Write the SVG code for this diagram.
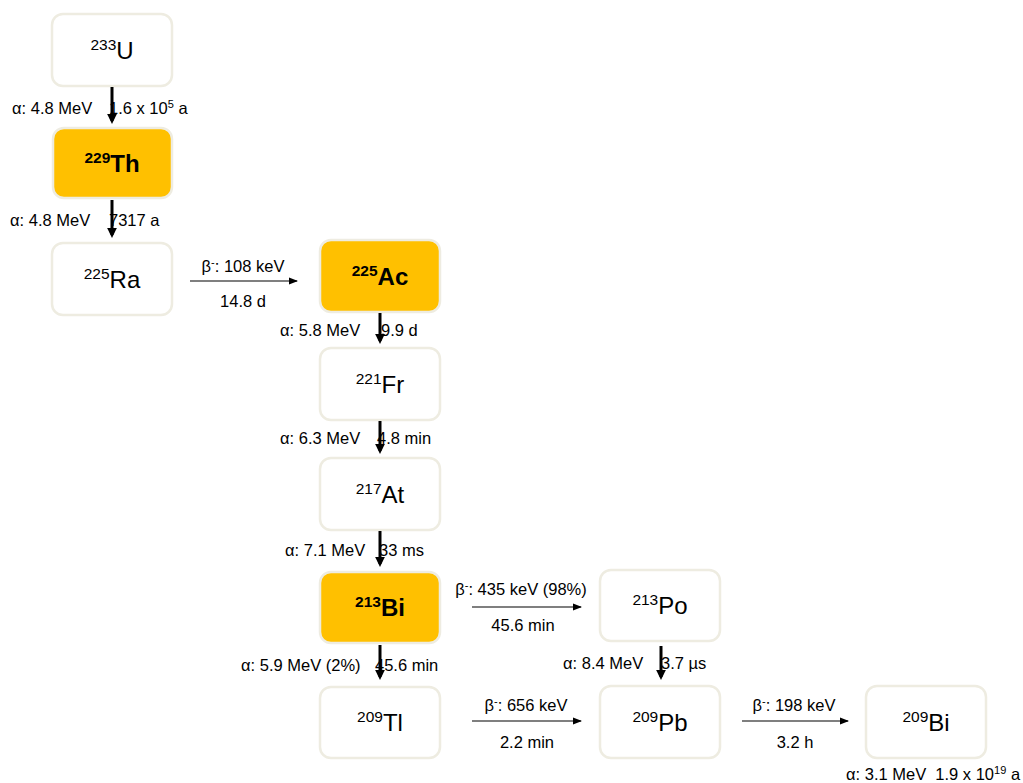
<svg xmlns="http://www.w3.org/2000/svg" width="1023" height="783" viewBox="0 0 1023 783">
<defs>
<style>
.box{fill:#ffffff;stroke:#eeece1;stroke-width:2.5}
.hl{fill:#ffc000;stroke:#eeece1;stroke-width:2.5}
.nl{font-family:"Liberation Sans",Arial,sans-serif;font-size:24px;fill:#000;text-anchor:middle}
.nl tspan.s{font-size:15.5px}
.nb{font-weight:bold}
.lb{font-family:"Liberation Sans",Arial,sans-serif;font-size:16.5px;fill:#000}
.c{text-anchor:middle}
.va{stroke:#000;stroke-width:3;fill:none}
.ha{stroke:#000;stroke-width:1.2;fill:none}
</style>
<marker id="big" markerWidth="3.5" markerHeight="4" refX="2.5" refY="2" orient="auto" markerUnits="strokeWidth"><path d="M0,0.3 L3.5,2 L0,3.7 z" fill="#000"/></marker>
<marker id="sm" markerWidth="8" markerHeight="6" refX="7" refY="3" orient="auto" markerUnits="strokeWidth"><path d="M0,0 L8,3 L0,6 z" fill="#000"/></marker>
</defs>
<rect width="1023" height="783" fill="#fff"/>
<g id="U233"><rect class="box" x="52" y="14" width="120" height="72" rx="11"/><text class="nl" x="112" y="59"><tspan class="s" dy="-9">233</tspan><tspan dy="9">U</tspan></text></g>
<g id="Th229"><rect class="hl" x="53" y="128" width="119" height="70" rx="11"/><text class="nl nb" x="112" y="172"><tspan class="s" dy="-9">229</tspan><tspan dy="9">Th</tspan></text></g>
<g id="Ra225"><rect class="box" x="52" y="243" width="120" height="72" rx="11"/><text class="nl" x="112" y="288"><tspan class="s" dy="-9">225</tspan><tspan dy="9">Ra</tspan></text></g>
<g id="Ac225"><rect class="hl" x="320" y="240" width="120" height="72" rx="11"/><text class="nl nb" x="380" y="285"><tspan class="s" dy="-9">225</tspan><tspan dy="9">Ac</tspan></text></g>
<g id="Fr221"><rect class="box" x="320" y="348" width="120" height="72" rx="11"/><text class="nl" x="380" y="393"><tspan class="s" dy="-9">221</tspan><tspan dy="9">Fr</tspan></text></g>
<g id="At217"><rect class="box" x="320" y="458" width="120" height="72" rx="11"/><text class="nl" x="380" y="503"><tspan class="s" dy="-9">217</tspan><tspan dy="9">At</tspan></text></g>
<g id="Bi213"><rect class="hl" x="320" y="572" width="120" height="71" rx="11"/><text class="nl nb" x="380" y="616"><tspan class="s" dy="-9">213</tspan><tspan dy="9">Bi</tspan></text></g>
<g id="Po213"><rect class="box" x="600" y="570" width="120" height="71" rx="11"/><text class="nl" x="660" y="614"><tspan class="s" dy="-9">213</tspan><tspan dy="9">Po</tspan></text></g>
<g id="Tl209"><rect class="box" x="320" y="687" width="120" height="71" rx="11"/><text class="nl" x="380" y="731"><tspan class="s" dy="-9">209</tspan><tspan dy="9">Tl</tspan></text></g>
<g id="Pb209"><rect class="box" x="600" y="686" width="120" height="72" rx="11"/><text class="nl" x="660" y="731"><tspan class="s" dy="-9">209</tspan><tspan dy="9">Pb</tspan></text></g>
<g id="Bi209"><rect class="box" x="866" y="686" width="120" height="72" rx="11"/><text class="nl" x="926" y="731"><tspan class="s" dy="-9">209</tspan><tspan dy="9">Bi</tspan></text></g>
<g id="connectors">
<line class="va" x1="112" y1="87" x2="112" y2="121" marker-end="url(#big)"/>
<line class="va" x1="112" y1="200" x2="112" y2="235" marker-end="url(#big)"/>
<line class="va" x1="380" y1="313" x2="380" y2="341" marker-end="url(#big)"/>
<line class="va" x1="380" y1="421" x2="380" y2="451" marker-end="url(#big)"/>
<line class="va" x1="380" y1="531" x2="380" y2="564" marker-end="url(#big)"/>
<line class="va" x1="380" y1="645" x2="380" y2="677" marker-end="url(#big)"/>
<line class="va" x1="661" y1="646" x2="661" y2="677" marker-end="url(#big)"/>
<line class="ha" x1="190" y1="281" x2="297" y2="281" marker-end="url(#sm)"/>
<line class="ha" x1="472" y1="607" x2="581" y2="607" marker-end="url(#sm)"/>
<line class="ha" x1="472" y1="721" x2="581" y2="721" marker-end="url(#sm)"/>
<line class="ha" x1="742" y1="721" x2="848" y2="721" marker-end="url(#sm)"/>
</g>
<g id="labels">
<text class="lb" x="12" y="114">α: 4.8 MeV</text><text class="lb" x="109" y="114">1.6 x 10<tspan dy="-6" font-size="11">5</tspan><tspan dy="6"> a</tspan></text>
<text class="lb" x="10" y="226">α: 4.8 MeV</text><text class="lb" x="109" y="226">7317 a</text>
<text class="lb c" x="243" y="272">β<tspan dy="-6" font-size="11">-</tspan><tspan dy="6">: 108 keV</tspan></text><text class="lb c" x="243" y="307">14.8 d</text>
<text class="lb" x="280" y="336">α: 5.8 MeV</text><text class="lb" x="381" y="336">9.9 d</text>
<text class="lb" x="280" y="444">α: 6.3 MeV</text><text class="lb" x="377" y="444">4.8 min</text>
<text class="lb" x="285" y="556">α: 7.1 MeV</text><text class="lb" x="379" y="556">33 ms</text>
<text class="lb c" x="521" y="595">β<tspan dy="-6" font-size="11">-</tspan><tspan dy="6">: 435 keV (98%)</tspan></text><text class="lb c" x="523" y="631">45.6 min</text>
<text class="lb" x="241" y="671">α: 5.9 MeV (2%)</text><text class="lb" x="375" y="671">45.6 min</text>
<text class="lb" x="563" y="669">α: 8.4 MeV</text><text class="lb" x="661" y="669">3.7 µs</text>
<text class="lb c" x="526" y="711">β<tspan dy="-6" font-size="11">-</tspan><tspan dy="6">: 656 keV</tspan></text><text class="lb c" x="527" y="748">2.2 min</text>
<text class="lb c" x="794" y="711">β<tspan dy="-6" font-size="11">-</tspan><tspan dy="6">: 198 keV</tspan></text><text class="lb c" x="795" y="748">3.2 h</text>
<text class="lb" x="846" y="780" xml:space="preserve">α: 3.1 MeV  1.9 x 10<tspan dy="-6" font-size="11">19</tspan><tspan dy="6"> a</tspan></text>
</g>
</svg>
